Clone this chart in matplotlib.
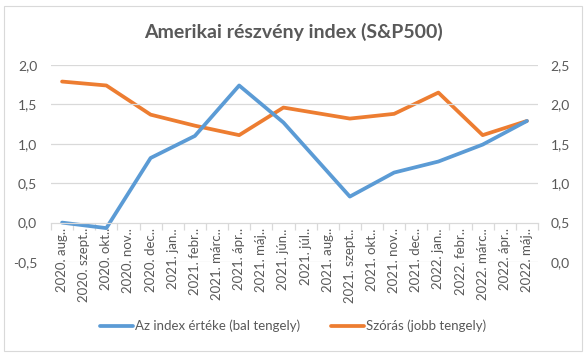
import matplotlib
matplotlib.use("Agg")
import matplotlib.pyplot as plt
from matplotlib.patches import Rectangle

plt.rcParams['font.family'] = ['Lato', 'DejaVu Sans']

# categories on the x axis
months = ["2020. aug..", "2020. szept..", "2020. okt..", "2020. nov..", "2020. dec..",
          "2021. jan..", "2021. febr..", "2021. márc..", "2021. ápr..", "2021. máj..",
          "2021. jún..", "2021. júl..", "2021. aug..", "2021. szept..", "2021. okt..",
          "2021. nov..", "2021. dec..", "2022. jan..", "2022. febr..", "2022. márc..",
          "2022. ápr..", "2022. máj.."]

# None = no observation for that month (line is connected across the gap)
index_value = [0.0, None, -0.07, None, 0.82, None, 1.10, None, 1.74, None,
               1.27, None, None, 0.33, None, 0.635, None, 0.775, None, 0.99,
               None, 1.29]
std_dev = [2.29, None, 2.24, None, 1.87, None, 1.73, None, 1.61, None,
           1.96, None, None, 1.82, None, 1.88, None, 2.15, None, 1.61,
           None, 1.79]

BLUE = "#5B9BD5"
ORANGE = "#ED7D31"
GREY = "#595959"
GRID = "#D9D9D9"


def valid(vals):
    pts = [(i, v) for i, v in enumerate(vals) if v is not None]
    return [p[0] for p in pts], [p[1] for p in pts]


fig = plt.figure(figsize=(5.86, 3.57), dpi=100)
fig.patches.append(Rectangle((4 / 586, 1 - 351 / 357), 578 / 586, 345 / 357,
                             transform=fig.transFigure, fill=False,
                             edgecolor=GRID, linewidth=0.8))

ax = fig.add_axes([51 / 586, 1 - 262 / 357, 487 / 586, 197 / 357])
ax2 = ax.twinx()

n = len(months)
ax.set_xlim(-0.5, n - 0.5)
ax.set_ylim(-0.5, 2.0)
ax2.set_ylim(0.0, 2.5)
ax.set_yticks([-0.5, 0.0, 0.5, 1.0, 1.5, 2.0])
ax2.set_yticks([0.0, 0.5, 1.0, 1.5, 2.0, 2.5])
ax.set_yticklabels([f"{v:.1f}".replace(".", ",") for v in ax.get_yticks()])
ax2.set_yticklabels([f"{v:.1f}".replace(".", ",") for v in ax2.get_yticks()])

for y in [-0.5, 0.5, 1.0, 1.5, 2.0]:
    ax.axhline(y, color=GRID, linewidth=0.9, zorder=0)

for a in (ax, ax2):
    for s in a.spines.values():
        s.set_visible(False)
ax.tick_params(axis='y', length=0, labelsize=10, colors=GREY, pad=10)
ax2.tick_params(axis='y', length=0, labelsize=10, colors=GREY, pad=9)

ax.spines['bottom'].set_visible(True)
ax.spines['bottom'].set_position(('data', 0))
ax.spines['bottom'].set_color(GRID)
ax.spines['bottom'].set_linewidth(0.9)

ax.set_xticks(range(n))
ax.set_xticklabels(months, rotation=90, fontsize=9.5, color=GREY)
ax.set_xticks([i - 0.5 for i in range(n + 1)], minor=True)
ax.tick_params(axis='x', which='major', length=0, pad=4)
ax.tick_params(axis='x', which='minor', length=5, color=GRID, width=0.9)

xb, yb = valid(index_value)
xo, yo = valid(std_dev)
l1, = ax.plot(xb, yb, color=BLUE, linewidth=2.7, solid_capstyle='round',
              solid_joinstyle='round', label="Az index értéke (bal tengely)")
l2, = ax2.plot(xo, yo, color=ORANGE, linewidth=2.7, solid_capstyle='round',
               solid_joinstyle='round', label="Szórás (jobb tengely)")
ax.set_zorder(ax2.get_zorder() + 1)
ax.patch.set_visible(False)

fig.text(0.5, 1 - 32 / 357, "Amerikai részvény index (S&P500)", ha='center',
         va='center', fontsize=14, fontweight='bold', color=GREY)

fig.legend(handles=[l1, l2], loc='center', bbox_to_anchor=(0.5, 1 - 326 / 357),
           ncol=2, frameon=False, fontsize=9.5, labelcolor=GREY,
           handlelength=2.5, handletextpad=0.1, columnspacing=2.4)

fig.savefig("out.png", dpi=100)
